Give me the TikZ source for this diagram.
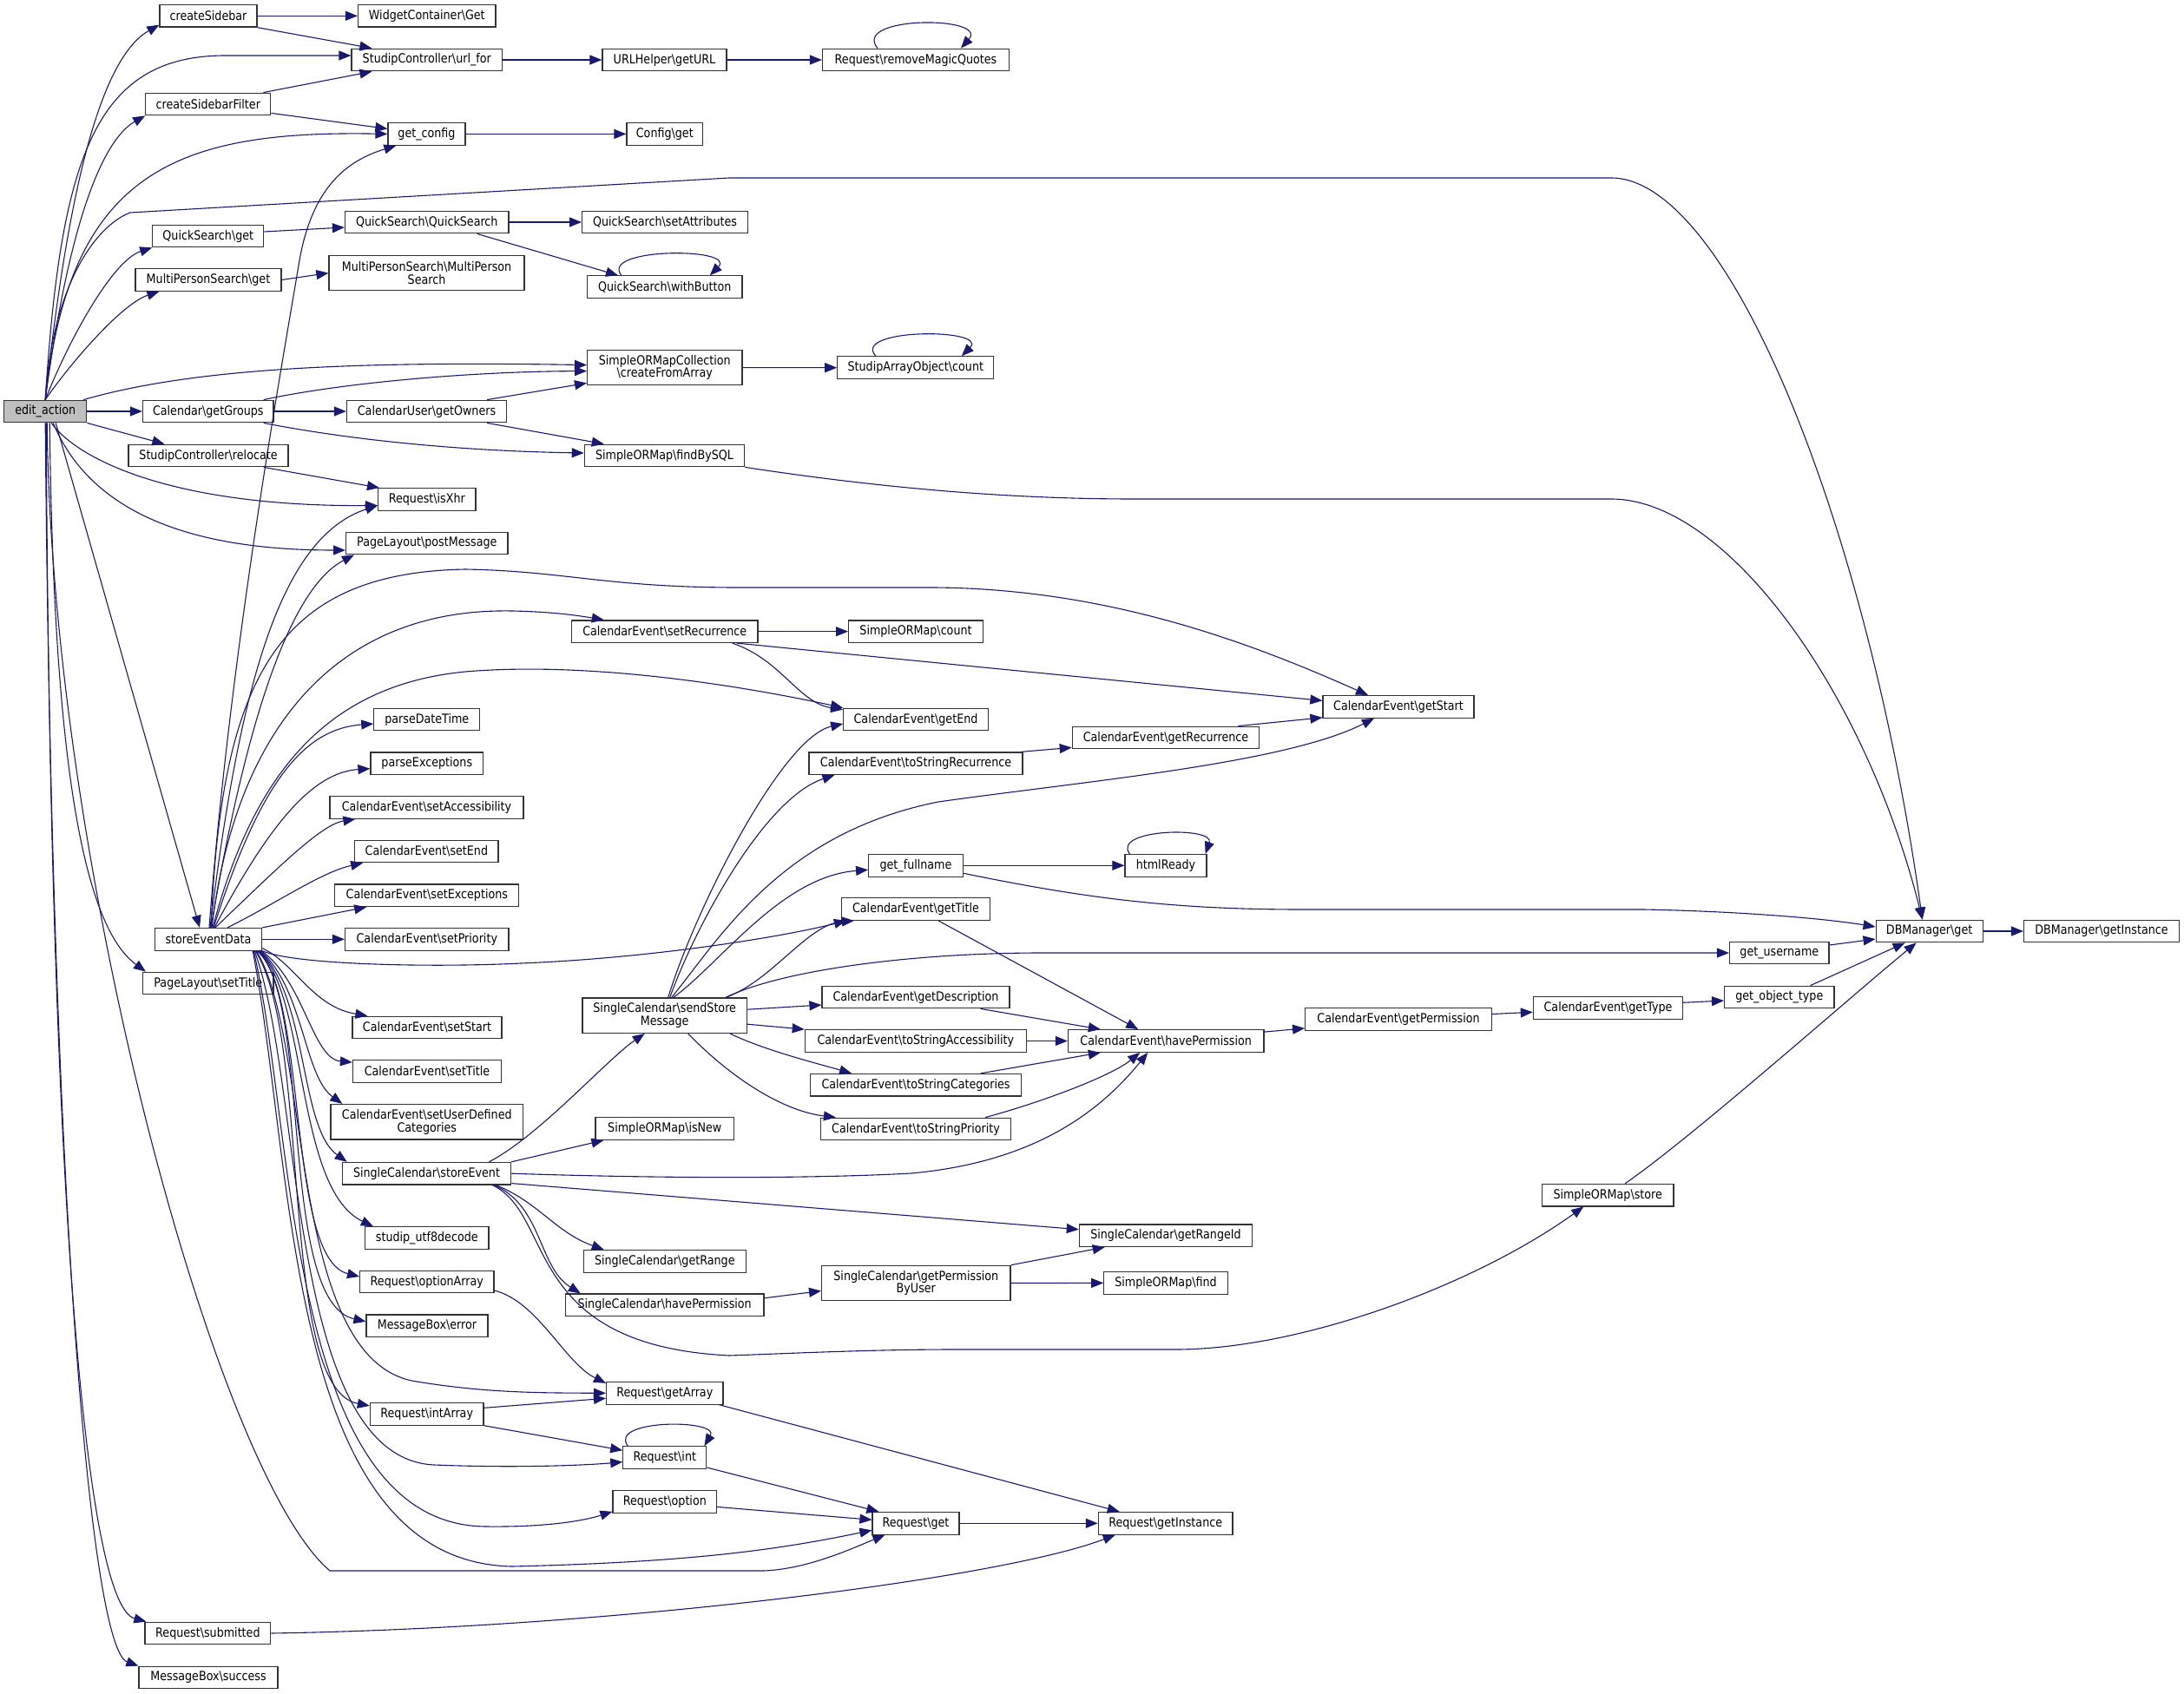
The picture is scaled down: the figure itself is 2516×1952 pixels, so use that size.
\documentclass[tikz,border=0pt]{standalone}
\usepackage{fontspec}
\setmainfont{DejaVu Sans}[FakeStretch=0.87]
\usetikzlibrary{arrows.meta,calc}
\definecolor{edgecol}{HTML}{191970}
\definecolor{eagray}{HTML}{BFBFBF}
\newcommand\BSL{\textbackslash}
\newcommand\Nd[5]{\node[nbox,minimum width=#4*0.5pt] (#1) at (#2,#3) {#5};}
\newcommand\Ndd[5]{\node[nbox,minimum width=#4*0.5pt,minimum height=20.2pt] (#1) at (#2,#3) {#5};}
\begin{document}
\begin{tikzpicture}[x=0.5pt,y=-0.5pt,
  nbox/.style={draw=black!80,line width=0.6pt,fill=white,inner sep=0pt,minimum height=12.8pt,align=center,font=\fontsize{7.3}{7.3}\selectfont},
  arw/.style={draw=edgecol,line width=0.55pt,-{Triangle[length=7pt,width=5.5pt]}}]
\useasboundingbox (0,0) rectangle (2516,1952);
% nodes
\node[nbox,fill=eagray,minimum width=47.5pt] (ea) at (52.2,474) {edit\_action};
\Nd{cs}{240}{18.3}{112}{createSidebar}
\Nd{wcg}{491.8}{18.3}{158.5}{WidgetContainer\BSL{}Get}
\Nd{urlfor}{491.8}{69}{173.6}{StudipController\BSL{}url\_for}
\Nd{geturl}{765.5}{69}{143}{URLHelper\BSL{}getURL}
\Nd{rmq}{1055}{69}{215}{Request\BSL{}removeMagicQuotes}
\Nd{csf}{239.8}{120}{144}{createSidebarFilter}
\Nd{gc}{491.5}{154.4}{89}{get\_config}
\Nd{cfg}{765.8}{154.4}{87.5}{Config\BSL{}get}
\Nd{qsget}{239.8}{272}{128}{QuickSearch\BSL{}get}
\Nd{qsqs}{491.8}{256}{188.5}{QuickSearch\BSL{}QuickSearch}
\Nd{qssa}{766}{256}{190.7}{QuickSearch\BSL{}setAttributes}
\Nd{qswb}{765.8}{330.7}{178.4}{QuickSearch\BSL{}withButton}
\Nd{mpsget}{240}{322.5}{168}{MultiPersonSearch\BSL{}get}
\Ndd{mpsmps}{491.5}{314.6}{225}{MultiPersonSearch\BSL{}MultiPerson\\Search}
\Ndd{cfa}{765.8}{423.6}{178.4}{SimpleORMapCollection\\\BSL{}createFromArray}
\Nd{saoc}{1054.8}{423.7}{180}{StudipArrayObject\BSL{}count}
\Nd{cgg}{239.8}{474}{150.5}{Calendar\BSL{}getGroups}
\Nd{cugo}{491.5}{474}{184}{CalendarUser\BSL{}getOwners}
\Nd{reloc}{240}{525}{184}{StudipController\BSL{}relocate}
\Nd{fbs}{765.5}{525}{184.3}{SimpleORMap\BSL{}findBySQL}
\Nd{isxhr}{491.8}{575.5}{112.5}{Request\BSL{}isXhr}
\Nd{pm}{491.8}{626}{186.4}{PageLayout\BSL{}postMessage}
\Nd{srec}{765.7}{727.7}{214.6}{CalendarEvent\BSL{}setRecurrence}
\Nd{somc}{1055}{727.7}{154.8}{SimpleORMap\BSL{}count}
\Nd{gstart}{1611}{814.4}{174}{CalendarEvent\BSL{}getStart}
\Nd{gend}{1055}{829}{166.6}{CalendarEvent\BSL{}getEnd}
\Nd{pdt}{491.8}{829}{122}{parseDateTime}
\Nd{grec}{1343}{850}{215.4}{CalendarEvent\BSL{}getRecurrence}
\Nd{tsrec}{1055}{879.7}{246}{CalendarEvent\BSL{}toStringRecurrence}
\Nd{pex}{491.8}{879.7}{129.6}{parseExceptions}
\Nd{sacc}{491.5}{930.4}{223}{CalendarEvent\BSL{}setAccessibility}
\Nd{gfn}{1055}{997.3}{108.7}{get\_fullname}
\Nd{hr}{1343}{997.3}{94}{htmlReady}
\Nd{send}{491.4}{981}{165.3}{CalendarEvent\BSL{}setEnd}
\Nd{sexc}{491.8}{1031.8}{212}{CalendarEvent\BSL{}setExceptions}
\Nd{gtitle}{1055}{1047.5}{171}{CalendarEvent\BSL{}getTitle}
\Nd{dbget}{2222.6}{1073}{123}{DBManager\BSL{}get}
\Nd{dbgi}{2421}{1073}{179}{DBManager\BSL{}getInstance}
\Nd{sed}{240}{1082.3}{123.2}{storeEventData}
\Nd{spri}{491.8}{1082.3}{188.5}{CalendarEvent\BSL{}setPriority}
\Nd{gun}{2049.8}{1098}{114.5}{get\_username}
\Nd{plst}{239.8}{1133}{150.5}{PageLayout\BSL{}setTitle}
\Nd{gdesc}{1055}{1149}{216}{CalendarEvent\BSL{}getDescription}
\Nd{got}{2049.8}{1149}{126.4}{get\_object\_type}
\Nd{gtype}{1852.5}{1161.3}{172.2}{CalendarEvent\BSL{}getType}
\Ndd{ssm}{765.7}{1170.2}{189.4}{SingleCalendar\BSL{}sendStore\\Message}
\Nd{gperm}{1611}{1174.5}{214.7}{CalendarEvent\BSL{}getPermission}
\Nd{sstart}{492}{1184}{172}{CalendarEvent\BSL{}setStart}
\Nd{tsacc}{1054.8}{1199.5}{255}{CalendarEvent\BSL{}toStringAccessibility}
\Nd{hperm}{1343.2}{1199.5}{225.5}{CalendarEvent\BSL{}havePermission}
\Nd{stitle}{492}{1234.5}{171}{CalendarEvent\BSL{}setTitle}
\Nd{tscat}{1055}{1250.2}{242.7}{CalendarEvent\BSL{}toStringCategories}
\Ndd{sudc}{491.8}{1292.7}{221.7}{CalendarEvent\BSL{}setUserDefined\\Categories}
\Nd{isnew}{765.8}{1300.5}{159.6}{SimpleORMap\BSL{}isNew}
\Nd{tspri}{1055}{1301}{219}{CalendarEvent\BSL{}toStringPriority}
\Nd{sce}{491.5}{1352.2}{194.4}{SingleCalendar\BSL{}storeEvent}
\Nd{sstore}{1852.2}{1377.1}{151.5}{SimpleORMap\BSL{}store}
\Nd{grid}{1343}{1423.7}{199.3}{SingleCalendar\BSL{}getRangeId}
\Nd{sud}{491.8}{1426.6}{142.5}{studip\_utf8decode}
\Nd{grange}{765.8}{1453.4}{187}{SingleCalendar\BSL{}getRange}
\Nd{roa}{491.8}{1477}{154.4}{Request\BSL{}optionArray}
\Ndd{gpbu}{1055.3}{1478.5}{217.4}{SingleCalendar\BSL{}getPermission\\ByUser}
\Nd{somf}{1343}{1478.4}{142.5}{SimpleORMap\BSL{}find}
\Nd{schp}{765.7}{1503.8}{228.6}{SingleCalendar\BSL{}havePermission}
\Nd{mbe}{492}{1527.8}{140}{MessageBox\BSL{}error}
\Nd{rga}{765.8}{1605.3}{134.4}{Request\BSL{}getArray}
\Nd{ria}{491.7}{1629.3}{130.6}{Request\BSL{}intArray}
\Nd{rint}{765.8}{1679.6}{96}{Request\BSL{}int}
\Nd{ropt}{765.8}{1730.4}{119.5}{Request\BSL{}option}
\Nd{rget}{1055}{1755.3}{100}{Request\BSL{}get}
\Nd{rgi}{1342.7}{1755.3}{154.7}{Request\BSL{}getInstance}
\Nd{rsub}{239.4}{1882}{144.8}{Request\BSL{}submitted}
\Nd{mbs}{240}{1933}{160}{MessageBox\BSL{}success}
% edit_action fan
\draw[arw] (ea.north) .. controls (75,250) and (110,70) .. ($(cs.south west)+(0,-3)$);
\draw[arw] (ea.north) .. controls (70,180) and (110,64) .. (260,64) -- ($(urlfor.west)+(0,-5)$);
\draw[arw] (ea.north) .. controls (80,250) and (120,160) .. (csf.south west);
\draw[arw] (ea.north) .. controls (80,200) and (200,150) .. (gc.west);
\draw[arw] (ea.north) .. controls (60,330) and (110,260) .. (150,245) -- (840,205) -- (1856,205) .. controls (1990,205) and (2150,600) .. ($(dbget.north)+(-8,0)$);
\draw[arw] (ea.north) .. controls (80,390) and (130,300) .. (qsget.south west);
\draw[arw] (ea.north) .. controls (80,420) and (140,350) .. ($(mpsget.south west)+(28,0)$);
\draw[arw] ($(ea.north east)+(-4,0)$) .. controls (220,425) and (400,416) .. ($(cfa.west)+(0,-3)$);
\draw[arw] (ea.east) -- (cgg.west);
\draw[arw] (ea.south east) -- ($(reloc.north west)+(42,0)$);
\draw[arw] ($(ea.south)+(7,0)$) .. controls (90,530) and (200,584) .. ($(isxhr.west)+(0,7)$);
\draw[arw] ($(ea.south)+(9,0)$) .. controls (100,580) and (200,634) .. ($(pm.west)+(0,8)$);
\draw[arw] ($(ea.south)+(12,0)$) -- ($(sed.north)+(-10,0)$);
\draw[arw] ($(ea.south)+(5,0)$) .. controls (62,900) and (100,1070) .. ($(plst.north west)+(4,0)$);
\draw[arw] ($(ea.south)+(2,0)$) .. controls (60,1000) and (250,1700) .. (380,1810) -- (880,1810) .. controls (930,1808) and (980,1785) .. ($(rget.south west)+(15,0)$);
\draw[arw] ($(ea.south)+(1,0)$) .. controls (58,1400) and (100,1850) .. ($(rsub.north west)+(2,0)$);
\draw[arw] (ea.south) .. controls (60,1400) and (105,1900) .. (mbs.north west);
% upper part
\draw[arw] (cs.east) -- (wcg.west);
\draw[arw] (cs.south east) -- ($(urlfor.north west)+(24,0)$);
\draw[arw] ($(csf.north east)+(-9,0)$) -- ($(urlfor.south west)+(24,0)$);
\draw[arw] ($(csf.south east)+(0,-3)$) -- ($(gc.west)+(0,-6)$);
\draw[arw] (urlfor.east) -- (geturl.west);
\draw[arw] (geturl.east) -- (rmq.west);
\draw[arw] ($(rmq.north)+(-44,0)$) .. controls (980,18) and (1140,18) .. ($(rmq.north)+(52,0)$);
\draw[arw] (gc.east) -- (cfg.west);
\draw[arw] ($(qsget.east)+(0,-5)$) -- ($(qsqs.west)+(0,6)$);
\draw[arw] (qsqs.east) -- (qssa.west);
\draw[arw] ($(qsqs.south east)+(-37,0)$) -- ($(qswb.north west)+(36,0)$);
\draw[arw] ($(qswb.north)+(-50,0)$) .. controls (690,285) and (850,285) .. ($(qswb.north)+(52,0)$);
\draw[arw] (mpsget.east) -- (mpsmps.west);
\draw[arw] (cfa.east) -- (saoc.west);
\draw[arw] ($(saoc.north)+(-46,0)$) .. controls (980,378) and (1140,378) .. ($(saoc.north)+(53,0)$);
\draw[arw] ($(cgg.north east)+(-12,0)$) .. controls (400,440) and (550,428) .. ($(cfa.west)+(0,4)$);
\draw[arw] (cgg.east) -- (cugo.west);
\draw[arw] ($(cgg.south east)+(-12,0)$) .. controls (420,510) and (550,520) .. ($(fbs.west)+(0,-3)$);
\draw[arw] ($(cugo.north east)+(-23,0)$) -- ($(cfa.south west)+(0,-3)$);
\draw[arw] ($(cugo.south east)+(-23,0)$) -- ($(fbs.north west)+(23,0)$);
\draw[arw] (fbs.south east) .. controls (1000,560) and (1150,575) .. (1306,575) -- (1856,575) .. controls (1990,575) and (2150,800) .. ($(dbget.north)+(-8,0)$);
\draw[arw] ($(reloc.south east)+(-29,0)$) -- ($(isxhr.north west)+(2,0)$);
% storeEventData upwards
\draw[arw] ($(sed.north)+(1,0)$) .. controls (265,750) and (325,420) .. (345,300) .. controls (360,215) and (400,185) .. ($(gc.south west)+(10,0)$);
\draw[arw] ($(sed.north)+(2,0)$) .. controls (275,800) and (320,620) .. ($(isxhr.west)+(0,7)$);
\draw[arw] ($(sed.north)+(3,0)$) .. controls (280,850) and (330,680) .. ($(pm.south west)+(10,0)$);
\draw[arw] ($(sed.north)+(3,0)$) .. controls (255,780) and (320,660) .. (536,656) .. controls (650,658) and (700,677) .. (850,677) -- (1070,677) .. controls (1280,677) and (1450,745) .. ($(gstart.north)+(-35,0)$);
\draw[arw] ($(sed.north)+(4,0)$) .. controls (270,850) and (380,700) .. (590,704) .. controls (640,705) and (670,710) .. ($(srec.north west)+(38,0)$);
\draw[arw] ($(sed.north)+(5,0)$) .. controls (290,900) and (370,790) .. (536,774) .. controls (700,760) and (900,800) .. (gend.north west);
\draw[arw] ($(sed.north)+(6,0)$) .. controls (300,900) and (350,840) .. ($(pdt.west)+(0,5)$);
\draw[arw] ($(sed.north)+(7,0)$) .. controls (310,950) and (360,890) .. ($(pex.west)+(0,6)$);
\draw[arw] ($(sed.north)+(8,0)$) .. controls (320,1000) and (370,950) .. ($(sacc.south west)+(30,0)$);
\draw[arw] ($(sed.north)+(22,0)$) .. controls (320,1040) and (370,1005) .. ($(send.south west)+(10,0)$);
\draw[arw] (sed.north east) -- ($(sexc.south west)+(37,0)$);
\draw[arw] (sed.east) -- (spri.west);
\draw[arw] (sed.south east) .. controls (340,1112) and (500,1115) .. (600,1110) .. controls (750,1104) and (900,1080) .. ($(gtitle.south west)+(6,0)$);
% storeEventData downwards
\draw[arw] ($(sed.south east)+(0,-3)$) .. controls (340,1110) and (360,1160) .. ($(sstart.north west)+(18,0)$);
\draw[arw] ($(sed.south east)+(-1,0)$) .. controls (350,1130) and (360,1220) .. ($(stitle.north west)+(0,3)$);
\draw[arw] ($(sed.south east)+(-2,0)$) .. controls (350,1140) and (350,1240) .. ($(sudc.north west)+(14,0)$);
\draw[arw] ($(sed.south east)+(-3,0)$) .. controls (355,1150) and (345,1300) .. ($(sce.north west)+(6,0)$);
\draw[arw] ($(sed.south east)+(-4,0)$) .. controls (355,1150) and (340,1370) .. ($(sud.north west)+(10,0)$);
\draw[arw] ($(sed.south east)+(-5,0)$) .. controls (355,1150) and (330,1450) .. ($(roa.west)+(0,-6)$);
\draw[arw] ($(sed.south east)+(-6,0)$) .. controls (360,1150) and (320,1500) .. ($(mbe.west)+(0,-5)$);
\draw[arw] ($(sed.south east)+(-7,0)$) .. controls (360,1200) and (330,1570) .. (480,1592) .. controls (560,1605) and (620,1605) .. (rga.west);
\draw[arw] ($(sed.south east)+(-8,0)$) .. controls (360,1200) and (320,1600) .. ($(ria.north west)+(0,4)$);
\draw[arw] ($(sed.south east)+(-9,0)$) .. controls (350,1250) and (330,1680) .. (500,1688) .. controls (600,1692) and (680,1688) .. ($(rint.west)+(0,5)$);
\draw[arw] ($(sed.south east)+(-10,0)$) .. controls (340,1300) and (330,1758) .. (560,1759) .. controls (640,1760) and (680,1750) .. ($(ropt.south west)+(0,-2)$);
\draw[arw] ($(sed.south east)+(-11,0)$) .. controls (340,1350) and (330,1800) .. (590,1805) .. controls (800,1800) and (900,1785) .. ($(rget.west)+(0,8)$);
% storeEvent
\draw[arw] ($(sce.north east)+(-26,0)$) .. controls (620,1310) and (700,1220) .. ($(ssm.south)+(-23,0)$);
\draw[arw] (sce.north east) -- ($(isnew.south west)+(10,0)$);
\draw[arw] (sce.east) .. controls (700,1356) and (900,1360) .. (1050,1352) .. controls (1180,1340) and (1260,1290) .. ($(hperm.south)+(-21,0)$);
\draw[arw] ($(sce.south east)+(0,-2)$) -- ($(grid.west)+(0,-7)$);
\draw[arw] ($(sce.south east)+(-18,0)$) .. controls (620,1385) and (640,1420) .. ($(grange.north west)+(24,0)$);
\draw[arw] ($(sce.south east)+(-20,0)$) .. controls (625,1390) and (620,1460) .. ($(schp.north west)+(18,0)$);
\draw[arw] ($(sce.south east)+(-22,0)$) .. controls (640,1400) and (600,1550) .. (840,1562) .. controls (900,1560) and (1000,1555) .. (1100,1555) -- (1354,1555) .. controls (1500,1555) and (1700,1480) .. ($(sstore.south)+(-28,0)$);
\draw[arw] ($(schp.east)+(0,-8)$) -- ($(gpbu.west)+(0,9)$);
\draw[arw] (gpbu.north east) -- ($(grid.south west)+(30,0)$);
\draw[arw] (gpbu.east) -- (somf.west);
% sendStoreMessage
\draw[arw] ($(ssm.north)+(4,0)$) .. controls (800,1050) and (900,850) .. ($(gend.west)+(0,5)$);
\draw[arw] ($(ssm.north)+(6,0)$) .. controls (800,1070) and (880,920) .. ($(tsrec.south west)+(30,0)$);
\draw[arw] ($(ssm.north)+(8,0)$) .. controls (830,1080) and (900,960) .. (1081,924) .. controls (1250,900) and (1480,880) .. ($(gstart.south)+(-28,0)$);
\draw[arw] ($(ssm.north)+(10,0)$) .. controls (830,1110) and (900,1010) .. ($(gfn.west)+(0,5)$);
\draw[arw] ($(ssm.north east)+(-25,0)$) .. controls (890,1130) and (930,1065) .. ($(gtitle.south west)+(15,0)$);
\draw[arw] ($(ssm.north east)+(-25,0)$) .. controls (900,1118) and (1050,1098) .. (1200,1098) -- (gun.west);
\draw[arw] ($(ssm.east)+(0,-7)$) -- ($(gdesc.west)+(0,9)$);
\draw[arw] ($(ssm.east)+(0,10)$) -- (tsacc.north west);
\draw[arw] ($(ssm.south east)+(-20,0)$) .. controls (880,1210) and (940,1225) .. ($(tscat.north west)+(48,0)$);
\draw[arw] ($(ssm.south)+(27,0)$) .. controls (840,1240) and (900,1280) .. ($(tspri.north west)+(18,0)$);
% CalendarEvent internals
\draw[arw] (srec.east) -- (somc.west);
\draw[arw] ($(srec.south east)+(-30,0)$) .. controls (900,760) and (920,810) .. ($(gend.north west)+(0,2)$);
\draw[arw] ($(srec.south east)+(-25,0)$) -- ($(gstart.west)+(0,-7)$);
\draw[arw] ($(tsrec.north east)+(-2,0)$) -- ($(grec.south west)+(0,-2)$);
\draw[arw] ($(grec.north east)+(-25,0)$) -- ($(gstart.south west)+(0,-1)$);
\draw[arw] (gfn.east) -- (hr.west);
\draw[arw] ($(hr.north west)+(6,0)$) .. controls (1280,955) and (1400,952) .. ($(hr.north east)+(-2,0)$);
\draw[arw] ($(gfn.east)+(0,9)$) .. controls (1250,1035) and (1350,1048) .. (1500,1048) -- (1893,1048) .. controls (2000,1050) and (2100,1058) .. ($(dbget.west)+(0,-5)$);
\draw[arw] ($(gtitle.south)+(26,0)$) -- ($(hperm.north)+(-32,0)$);
\draw[arw] ($(gdesc.south east)+(-34,0)$) -- ($(hperm.north west)+(38,0)$);
\draw[arw] (tsacc.east) -- (hperm.west);
\draw[arw] ($(tscat.north east)+(-47,0)$) -- ($(hperm.south west)+(38,0)$);
\draw[arw] ($(tspri.north east)+(-30,0)$) .. controls (1200,1270) and (1280,1240) .. ($(hperm.south)+(-30,0)$);
\draw[arw] ($(hperm.north east)+(0,3)$) -- ($(gperm.south west)+(0,-3)$);
\draw[arw] ($(gperm.east)+(0,-6)$) -- ($(gtype.west)+(0,5)$);
\draw[arw] ($(gtype.east)+(0,-6)$) -- ($(got.west)+(0,4)$);
\draw[arw] ($(got.north east)+(-28,0)$) -- ($(dbget.south)+(-28,0)$);
\draw[arw] ($(gun.east)+(0,-9)$) -- ($(dbget.west)+(0,9)$);
\draw[arw] ($(sstore.north)+(20,0)$) .. controls (1950,1310) and (2130,1150) .. ($(dbget.south)+(-15,0)$);
\draw[arw] (dbget.east) -- (dbgi.west);
% Request
\draw[arw] ($(roa.east)+(0,10)$) .. controls (620,1500) and (650,1570) .. ($(rga.north west)+(0,2)$);
\draw[arw] ($(ria.east)+(0,-7)$) -- ($(rga.west)+(0,6)$);
\draw[arw] (ria.south east) -- ($(rint.north west)+(0,5)$);
\draw[arw] ($(rint.north west)+(6,0)$) .. controls (700,1635) and (830,1635) .. ($(rint.north east)+(-3,0)$);
\draw[arw] ($(rint.south east)+(0,-2)$) -- ($(rget.north west)+(8,0)$);
\draw[arw] ($(ropt.east)+(0,6)$) -- ($(rget.west)+(0,-4)$);
\draw[arw] ($(rga.south east)+(-5,0)$) -- ($(rgi.north west)+(25,0)$);
\draw[arw] (rget.east) -- (rgi.west);
\draw[arw] (rsub.east) .. controls (700,1876) and (1150,1820) .. ($(rgi.south west)+(20,0)$);
\end{tikzpicture}
\end{document}
